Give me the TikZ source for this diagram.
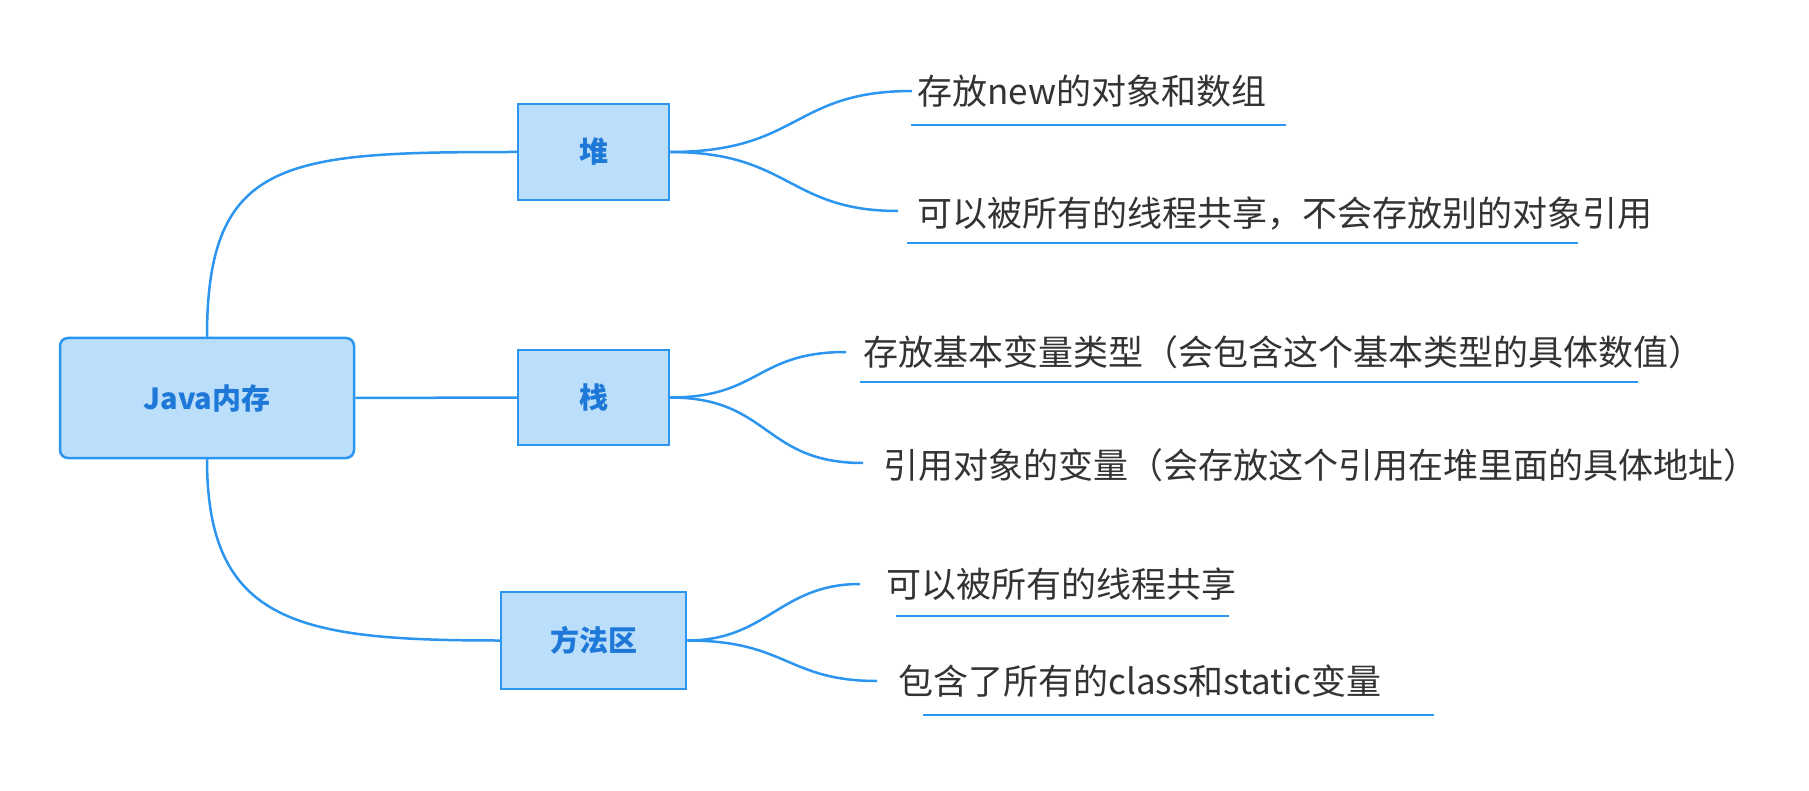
\documentclass[tikz,border=0pt]{standalone}
\usepackage{fontspec}
\setmainfont{Noto Sans CJK SC}
\definecolor{lineblue}{RGB}{43,149,239}
\definecolor{boxfill}{RGB}{187,222,250}
\definecolor{boxtext}{RGB}{30,120,216}
\definecolor{textgray}{RGB}{51,51,51}
\begin{document}
\begin{tikzpicture}[x=1pt,y=-1pt,
  conn/.style={draw=lineblue, line width=2.5pt},
  topic/.style={draw=lineblue, fill=boxfill, line width=2.5pt, text=boxtext, inner sep=0pt,
    font=\fontsize{29}{32}\selectfont\bfseries},
  leaf/.style={anchor=west, inner sep=0pt, text=textgray, font=\fontsize{35}{40}\selectfont,
    text height=30.8pt, text depth=4.2pt},
  uline/.style={draw=lineblue, line width=2.5pt}]
\useasboundingbox (0,0) rectangle (1809,791);
% topics
\node[topic, rounded corners=8pt, minimum width=294pt, minimum height=120pt] (root) at (207,398) {Java内存};
\node[topic, minimum width=151pt, minimum height=96pt] (heap) at (593.5,152) {堆};
\node[topic, minimum width=151pt, minimum height=95pt] (stack) at (593.5,397.5) {栈};
\node[topic, minimum width=185pt, minimum height=97pt] (method) at (593.5,640.5) {方法区};
% leaves
\node[leaf] (t1) at (917,91) {存放new的对象和数组};
\node[leaf] (t2) at (917,213) {可以被所有的线程共享，不会存放别的对象引用};
\node[leaf] (t3) at (863,352) {存放基本变量类型（会包含这个基本类型的具体数值）};
\node[leaf] (t4) at (883,465) {引用对象的变量（会存放这个引用在堆里面的具体地址）};
\node[leaf] (t5) at (886,584) {可以被所有的线程共享};
\node[leaf] (t6) at (898,681) {包含了所有的class和static变量};
% root connectors
\draw[conn] (root.north) .. controls +(0,-180) and +(-230,0) .. (heap.west);
\draw[conn] (root.east) -- (stack.west);
\draw[conn] (root.south) .. controls +(0,165) and +(-200,0) .. (method.west);
% leaf connectors
\draw[conn] (heap.east) .. controls +(130,0) and +(-120,0) .. ([xshift=-5pt]t1.west);
\draw[conn] (heap.east) .. controls +(120,0) and +(-110,0) .. ([xshift=-19pt,yshift=2pt]t2.west);
\draw[conn] (stack.east) .. controls +(90,0) and +(-90,0) .. ([xshift=-17pt]t3.west);
\draw[conn] (stack.east) .. controls +(100,0) and +(-100,0) .. ([xshift=-20pt,yshift=2pt]t4.west);
\draw[conn] (method.east) .. controls +(80,0) and +(-80,0) .. ([xshift=-26pt]t5.west);
\draw[conn] (method.east) .. controls +(100,0) and +(-90,0) .. ([xshift=-21pt]t6.west);
% underlines
\draw[uline] (911,125) -- (1286,125);
\draw[uline] (907,243) -- (1578,243);
\draw[uline] (860,382) -- (1638,382);
\draw[uline] (896,616) -- (1229,616);
\draw[uline] (923,715) -- (1434,715);
\end{tikzpicture}
\end{document}
